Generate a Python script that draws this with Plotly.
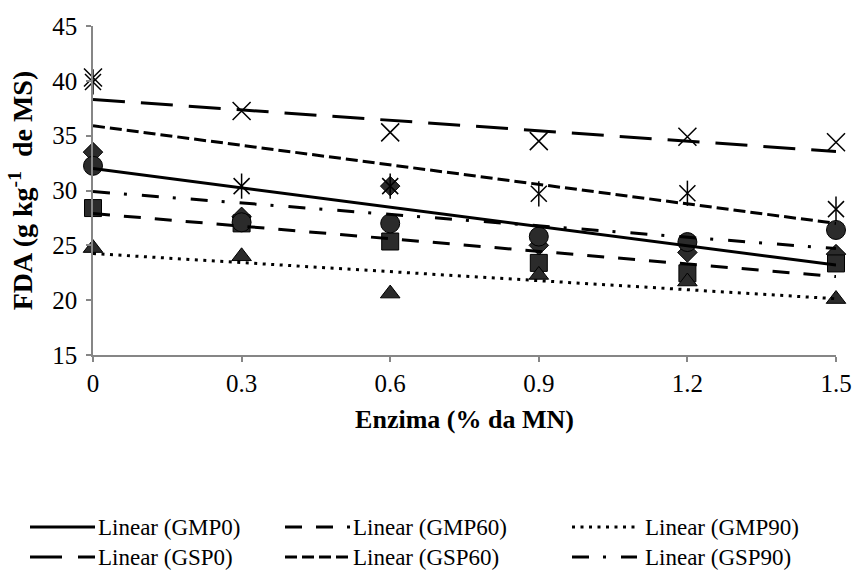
import plotly.graph_objects as go

# ---------------- data ----------------
enzyme = [0, 0.3, 0.6, 0.9, 1.2, 1.5]
x_ticks = [0, 0.3, 0.6, 0.9, 1.2, 1.5]
x_tick_text = ["0", "0.3", "0.6", "0.9", "1.2", "1.5"]
y_ticks = [15, 20, 25, 30, 35, 40, 45]

series_names = ["GMP0", "GMP60", "GMP90", "GSP0", "GSP60", "GSP90"]
gmp0 = [33.5, 27.6, 30.4, 25.0, 24.35, 24.2]
gmp60 = [28.4, 27.0, 25.35, 23.4, 22.45, 23.35]
gmp90 = [24.75, 24.0, 20.6, 22.3, 21.7, 20.1]
gsp0 = [40.3, 37.25, 35.3, 34.5, 34.9, 34.4]
gsp60 = [39.9, 30.4, 30.4, 29.7, 29.75, 28.3]
gsp90 = [32.25, 27.1, 27.0, 25.8, 25.3, 26.4]

# linear trendline values read at x = 0 and x = 1.5
trend_x = [0, 1.5]
trend_gmp0 = [32.0, 23.2]
trend_gmp60 = [27.9, 22.15]
trend_gmp90 = [24.25, 20.13]
trend_gsp0 = [38.3, 33.55]
trend_gsp60 = [35.9, 27.0]
trend_gsp90 = [29.9, 24.7]

# ---------------- styling ----------------
FONT = "Liberation Serif"
W, H = 868, 576
L, R, T, B = 93, 32, 26, 221
PW, PH = W - L - R, H - T - B
AXIS_GRAY = "#868686"
FILL = "#2b2b2b"

fig = go.Figure()

marker_series = [
    (gmp0, dict(symbol="diamond", size=15, color=FILL, line=dict(color="black", width=1))),
    (gmp60, dict(symbol="square", size=17, color=FILL, line=dict(color="black", width=1))),
    (gmp90, dict(symbol="triangle-up", size=17, color=FILL, line=dict(color="black", width=1))),
    (gsp0, dict(symbol="x-thin-open", size=18, color="black", line=dict(color="black", width=1.5))),
    (gsp60, dict(symbol="x-thin-open", size=16, color="black", line=dict(color="black", width=1.5))),
    (gsp60, dict(symbol="line-ns-open", size=18, color="black", line=dict(color="black", width=1.5))),
    (gsp90, dict(symbol="circle", size=19, color=FILL, line=dict(color="black", width=1))),
]
for vals, mk in marker_series:
    fig.add_trace(go.Scatter(x=enzyme, y=vals, mode="markers", marker=mk,
                             showlegend=False, cliponaxis=False, hoverinfo="skip"))

dashes = {
    "GMP0": "solid",
    "GMP60": "17px,14px",
    "GMP90": "3px,5.5px",
    "GSP0": "32px,16px",
    "GSP60": "12px,5px",
    "GSP90": "17px,14px,3px,15px",
}
trends = [trend_gmp0, trend_gmp60, trend_gmp90, trend_gsp0, trend_gsp60, trend_gsp90]
for name, tv in zip(series_names, trends):
    fig.add_trace(go.Scatter(x=trend_x, y=tv, mode="lines",
                             line=dict(color="black", width=3, dash=dashes[name]),
                             name="Linear (%s)" % name, showlegend=False,
                             cliponaxis=False))

# ---------------- custom legend (Excel style) ----------------
def px2paper_x(px):
    return (px - L) / PW

def px2paper_y(py):
    return (H - B - py) / PH

col_x = [30, 285, 572]
row_y = [527, 557]
sample_len = 65
shapes = []
annotations = []
for i, name in enumerate(series_names):
    r, c = divmod(i, 3)
    x0 = col_x[c]
    yy = row_y[r]
    shapes.append(dict(type="line", xref="paper", yref="paper",
                       x0=px2paper_x(x0), x1=px2paper_x(x0 + sample_len),
                       y0=px2paper_y(yy), y1=px2paper_y(yy),
                       line=dict(color="black", width=3, dash=dashes[name])))
    annotations.append(dict(text="Linear (%s)" % name, xref="paper", yref="paper",
                            x=px2paper_x(x0 + sample_len + (1 if c < 2 else 6)),
                            y=px2paper_y(yy),
                            xanchor="left", yanchor="middle", showarrow=False,
                            font=dict(family=FONT, size=23, color="black")))

axis_common = dict(showline=True, linecolor=AXIS_GRAY, linewidth=1.5,
                   ticks="outside", ticklen=5, tickcolor=AXIS_GRAY, tickwidth=1.5,
                   showgrid=False, zeroline=False,
                   tickfont=dict(family=FONT, size=25, color="black"))

fig.update_layout(
    width=W, height=H, autosize=False,
    margin=dict(l=L, r=R, t=T, b=B, pad=0),
    paper_bgcolor="white", plot_bgcolor="white",
    showlegend=False,
    xaxis=dict(range=[0, 1.5], tickvals=x_ticks, ticktext=x_tick_text,
               ticklabelstandoff=0,
               title=dict(text="<b>Enzima (% da MN)</b>",
                          font=dict(family=FONT, size=26, color="black"), standoff=14),
               **axis_common),
    yaxis=dict(range=[15, 45], tickvals=y_ticks,
               ticklabelstandoff=4,
               title=dict(text="<b>FDA (g kg<sup>-1</sup>&nbsp;&nbsp;de MS)</b>",
                          font=dict(family=FONT, size=28, color="black"), standoff=11),
               **axis_common),
    shapes=shapes,
    annotations=annotations,
)

fig.write_html("out.html")
